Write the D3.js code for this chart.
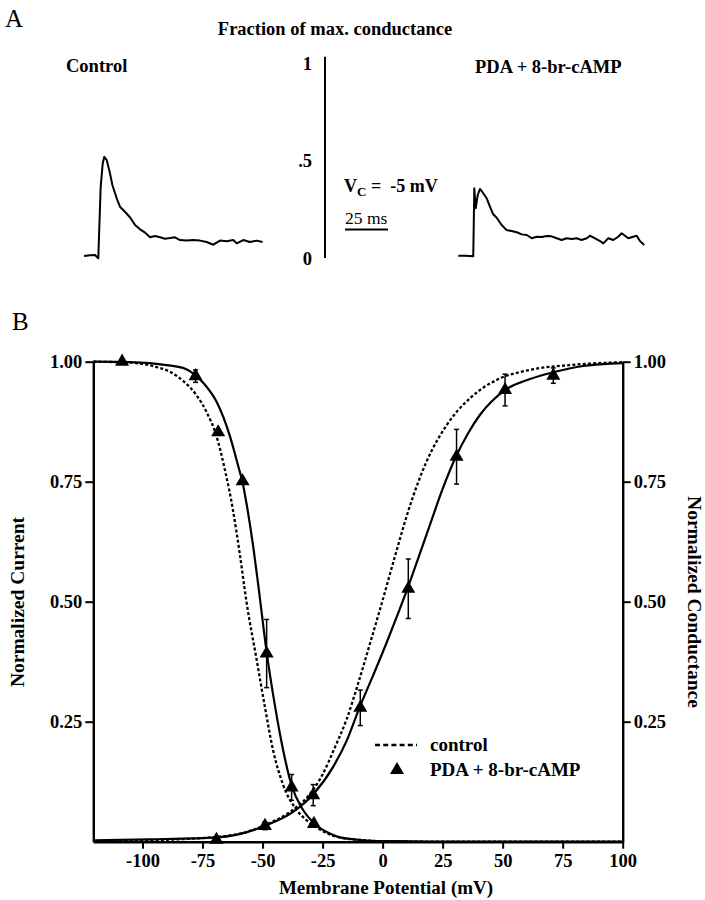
<!DOCTYPE html>
<html><head><meta charset="utf-8">
<script src="https://cdn.jsdelivr.net/npm/d3@7"></script>
<style>
body{margin:0;background:#fff;}
svg{display:block;}
text{font-family:"Liberation Serif","Times New Roman",serif;fill:#000;}
</style></head>
<body>
<svg id="chart" width="705" height="900"></svg>
<script>
// ---------- Panel A data (time in ms, fraction of max. conductance) ----------
const ctrlTraceT = [0,3.5,6.4,8.3,9.7,10.9,11.8,13.2,15.1,16.5,19.0,20.9,23.8,26.7,29.7,32.6,35.5,38.4,41.3,44.2,47.1,50.0,52.9,55.8,59.7,63.5,67.4,71.3,75.2,79.1,83.0,86.8,88.8,92.6,96.5,100.4,103.8];
const ctrlTraceG = [0.005,0.009,0.010,-0.007,0.361,0.481,0.514,0.497,0.429,0.369,0.301,0.258,0.232,0.204,0.164,0.142,0.125,0.101,0.108,0.101,0.094,0.097,0.101,0.087,0.084,0.087,0.084,0.077,0.063,0.084,0.081,0.087,0.070,0.087,0.077,0.084,0.077];
const pdaTraceT = [0,3.9,8.7,9.3,10.1,11.3,12.6,14.5,16.5,18.4,20.3,22.3,25.2,28.1,31.0,34.0,36.9,39.8,42.7,45.6,48.5,51.4,54.3,57.2,60.1,63.0,65.9,68.8,71.7,74.7,76.6,79.5,82.4,84.3,87.2,90.1,93.0,95.0,96.9,98.8,101.7,103.7,105.6,108.1];
const pdaTraceG = [0.007,0.007,0.004,0.352,0.250,0.318,0.349,0.327,0.301,0.258,0.219,0.201,0.164,0.138,0.133,0.127,0.116,0.113,0.096,0.104,0.103,0.108,0.106,0.096,0.087,0.096,0.092,0.096,0.087,0.096,0.109,0.096,0.082,0.070,0.096,0.087,0.104,0.122,0.109,0.096,0.104,0.109,0.082,0.062];
const panelATicks = [0, 0.5, 1];
const scaleBarMs = 25;

// ---------- Panel B data ----------
const xTicks = [-100,-75,-50,-25,0,25,50,75,100];
const yTicks = [0.25,0.50,0.75,1.00];

// PDA + 8-br-cAMP measured points
const inactV   = [-108.5,-77.9,-68.5,-58.3,-48.3,-37.9,-28.6];
const inactI   = [1.0,0.970,0.853,0.751,0.392,0.113,0.037];
const inactErr = [0,0.013,0,0,0.071,0.027,0];
const actV     = [-69.2,-49,-28.9,-9.3,10.7,30.8,51,71.1];
const actG     = [0.004,0.033,0.097,0.279,0.527,0.802,0.941,0.971];
const actErr   = [0,0.008,0.022,0.037,0.062,0.057,0.033,0.016];

// fitted curves
const fitInactPdaV = [-120.5,-105,-97,-90,-82,-78,-74,-69.2,-63.6,-60,-58.3,-56.7,-53.9,-51.8,-48.3,-44.9,-41.4,-37.9,-33.1,-28.2,-22,-17.8,-12,-5,5,20,40,100];
const fitInactPda  = [1.0,0.999,0.997,0.993,0.985,0.972,0.952,0.917,0.845,0.78,0.748,0.705,0.615,0.535,0.395,0.285,0.19,0.117,0.066,0.037,0.017,0.009,0.005,0.002,0.001,0.0003,0.0001,0];
const fitInactCtrlV = [-120.5,-105,-95,-88.6,-83.1,-77.5,-73.3,-69.2,-65.7,-62.3,-59.5,-56.7,-52.5,-49,-45.6,-41.4,-35.8,-31.7,-27,-22,-17,-10,0,20,100];
const fitInactCtrl  = [1.0,0.998,0.99,0.979,0.96,0.93,0.895,0.845,0.775,0.69,0.6,0.5,0.38,0.28,0.19,0.118,0.066,0.045,0.028,0.015,0.008,0.004,0.001,0.0002,0];
const fitActPdaV = [-120.5,-97,-69,-49,-37.3,-28.9,-20.6,-15,-9.5,-3.9,1.7,6,10.7,15,19.7,25,30.8,35.5,40.5,51,61.4,71.1,83.6,100];
const fitActPda  = [0.003,0.005,0.009,0.033,0.062,0.099,0.156,0.21,0.281,0.347,0.415,0.47,0.532,0.593,0.66,0.735,0.805,0.85,0.889,0.941,0.964,0.978,0.991,0.997];
const fitActCtrlV = [-120.5,-90,-62.2,-48.3,-38.6,-31,-25,-20,-15,-10,-5,0,5,11.4,18.3,26.7,36.4,47.5,61.4,78,100];
const fitActCtrl  = [0.001,0.004,0.014,0.036,0.062,0.095,0.14,0.195,0.255,0.333,0.417,0.503,0.592,0.7,0.792,0.868,0.924,0.962,0.983,0.993,0.999];

const legendLabels = ["control","PDA + 8-br-cAMP"];

// ---------- drawing ----------
const svg = d3.select("#chart");
svg.append("rect").attr("width",705).attr("height",900).attr("fill","#fff");
const FONT = "Liberation Serif, Times New Roman, serif";

// ===== Panel A =====
svg.append("text").attr("x",5).attr("y",27).attr("font-size",25).text("A");
svg.append("text").attr("x",335).attr("y",35).attr("text-anchor","middle")
  .attr("font-size",18.5).attr("font-weight","bold").text("Fraction of max. conductance");
svg.append("text").attr("x",66).attr("y",72).attr("font-size",18.5).attr("font-weight","bold").text("Control");
svg.append("text").attr("x",475).attr("y",73).attr("font-size",18.5).attr("font-weight","bold").text("PDA + 8-br-cAMP");

const yA = d3.scaleLinear().domain([0,1]).range([257,62]);
const axA = svg.append("g").attr("transform","translate(325,0)")
  .call(d3.axisLeft(yA).tickValues(panelATicks).tickSize(0).tickPadding(13)
    .tickFormat(d => d===0.5 ? ".5" : String(d)));
axA.select(".domain").remove();
axA.selectAll("text").attr("font-size",18.5).attr("font-weight","bold")
  .style("font-family",FONT).attr("dy","0.4em");
svg.append("line").attr("x1",325).attr("x2",325).attr("y1",56.7).attr("y2",258)
  .attr("stroke","#000").attr("stroke-width",2);

const tCtrl = d3.scaleLinear().domain([0,scaleBarMs]).range([84,127]);
const tPda  = d3.scaleLinear().domain([0,scaleBarMs]).range([458.3,501.3]);
const tBar  = d3.scaleLinear().domain([0,scaleBarMs]).range([345,388]);

const lineCtrl = d3.line().x((d,i)=>tCtrl(ctrlTraceT[i])).y(d=>yA(d));
const linePda  = d3.line().x((d,i)=>tPda(pdaTraceT[i])).y(d=>yA(d));
svg.append("path").attr("d",lineCtrl(ctrlTraceG)).attr("fill","none").attr("stroke","#000").attr("stroke-width",2).attr("stroke-linejoin","round");
svg.append("path").attr("d",linePda(pdaTraceG)).attr("fill","none").attr("stroke","#000").attr("stroke-width",2).attr("stroke-linejoin","round");

const vc = svg.append("text").attr("x",344).attr("y",192).attr("font-size",18).attr("font-weight","bold");
vc.append("tspan").text("V");
vc.append("tspan").attr("font-size",13).attr("dy",4).text("C");
vc.append("tspan").attr("dy",-4).attr("xml:space","preserve").text(" =  -5 mV");

svg.append("text").attr("x",345).attr("y",224).attr("font-size",17.5).text("25 ms");
svg.append("line").attr("x1",tBar(0)).attr("x2",tBar(scaleBarMs)).attr("y1",229.5).attr("y2",229.5)
  .attr("stroke","#000").attr("stroke-width",2);

// ===== Panel B =====
svg.append("text").attr("x",12).attr("y",330).attr("font-size",25).text("B");

const x = d3.scaleLinear().domain([-120.5,100]).range([93.3,622.7]);
const y = d3.scaleLinear().domain([0,1]).range([841.7,361.7]);

function styleAxis(g){
  g.selectAll(".domain").attr("stroke","#000").attr("stroke-width",2.4);
  g.selectAll(".tick line").attr("stroke","#000").attr("stroke-width",2);
  g.selectAll(".tick text").attr("font-size",18.5).attr("font-weight","bold")
    .style("font-family",FONT).attr("fill","#000");
}
const gx = svg.append("g").attr("transform",`translate(0,${y(0)})`)
  .call(d3.axisBottom(x).tickValues(xTicks).tickSize(7).tickSizeOuter(0).tickPadding(5).tickFormat(d => String(d)));
styleAxis(gx);
const gyl = svg.append("g").attr("transform",`translate(${x(-120.5)},0)`)
  .call(d3.axisLeft(y).tickValues(yTicks).tickSize(8).tickSizeOuter(0).tickPadding(3).tickFormat(d3.format(".2f")));
styleAxis(gyl);
const gyr = svg.append("g").attr("transform",`translate(${x(100)},0)`)
  .call(d3.axisRight(y).tickValues(yTicks).tickSize(8).tickSizeOuter(0).tickPadding(3).tickFormat(d3.format(".2f")));
styleAxis(gyr);

svg.append("text").attr("x",386).attr("y",894).attr("text-anchor","middle")
  .attr("font-size",19).attr("font-weight","bold").text("Membrane Potential (mV)");
svg.append("text").attr("transform","translate(24,602) rotate(-90)").attr("text-anchor","middle")
  .attr("font-size",19.5).attr("font-weight","bold").text("Normalized Current");
svg.append("text").attr("transform","translate(688,602) rotate(90)").attr("text-anchor","middle")
  .attr("font-size",19.5).attr("font-weight","bold").text("Normalized Conductance");

const curve = (vs) => d3.line().x((d,i)=>x(vs[i])).y(d=>y(d)).curve(d3.curveMonotoneX);
const plot = svg.append("g");
plot.append("path").attr("d",curve(fitInactCtrlV)(fitInactCtrl)).attr("fill","none").attr("stroke","#000").attr("stroke-width",2.3).attr("stroke-dasharray","3,2.2");
plot.append("path").attr("d",curve(fitActCtrlV)(fitActCtrl)).attr("fill","none").attr("stroke","#000").attr("stroke-width",2.3).attr("stroke-dasharray","3,2.2");
plot.append("path").attr("d",curve(fitInactPdaV)(fitInactPda)).attr("fill","none").attr("stroke","#000").attr("stroke-width",2.2);
plot.append("path").attr("d",curve(fitActPdaV)(fitActPda)).attr("fill","none").attr("stroke","#000").attr("stroke-width",2.2);

function errBars(vs, vals, errs){
  vs.forEach((v,i)=>{
    if(!errs[i]) return;
    const cx = x(v), y1 = y(vals[i]+errs[i]), y2 = y(vals[i]-errs[i]);
    plot.append("line").attr("x1",cx).attr("x2",cx).attr("y1",y1).attr("y2",y2).attr("stroke","#000").attr("stroke-width",1.5);
    [y1,y2].forEach(yy=>plot.append("line").attr("x1",cx-2.5).attr("x2",cx+2.5).attr("y1",yy).attr("y2",yy).attr("stroke","#000").attr("stroke-width",1.5));
  });
}
errBars(inactV,inactI,inactErr);
errBars(actV,actG,actErr);

const tri = d3.symbol().type(d3.symbolTriangle).size(85);
function markers(vs, vals){
  plot.selectAll(null).data(vals).enter().append("path")
    .attr("d",tri).attr("transform",(d,i)=>`translate(${x(vs[i])},${y(d)})`).attr("fill","#000");
}
markers(inactV,inactI);
markers(actV,actG);

// legend
const lg = svg.append("g");
lg.append("line").attr("x1",375).attr("x2",417).attr("y1",745).attr("y2",745).attr("stroke","#000").attr("stroke-width",2.3).attr("stroke-dasharray","5,3.2");
lg.append("text").attr("x",430).attr("y",751).attr("font-size",19).attr("font-weight","bold").text(legendLabels[0]);
lg.append("path").attr("d",tri).attr("transform","translate(397,770)").attr("fill","#000");
lg.append("text").attr("x",430).attr("y",776).attr("font-size",19).attr("font-weight","bold").text(legendLabels[1]);
</script>
</body></html>
